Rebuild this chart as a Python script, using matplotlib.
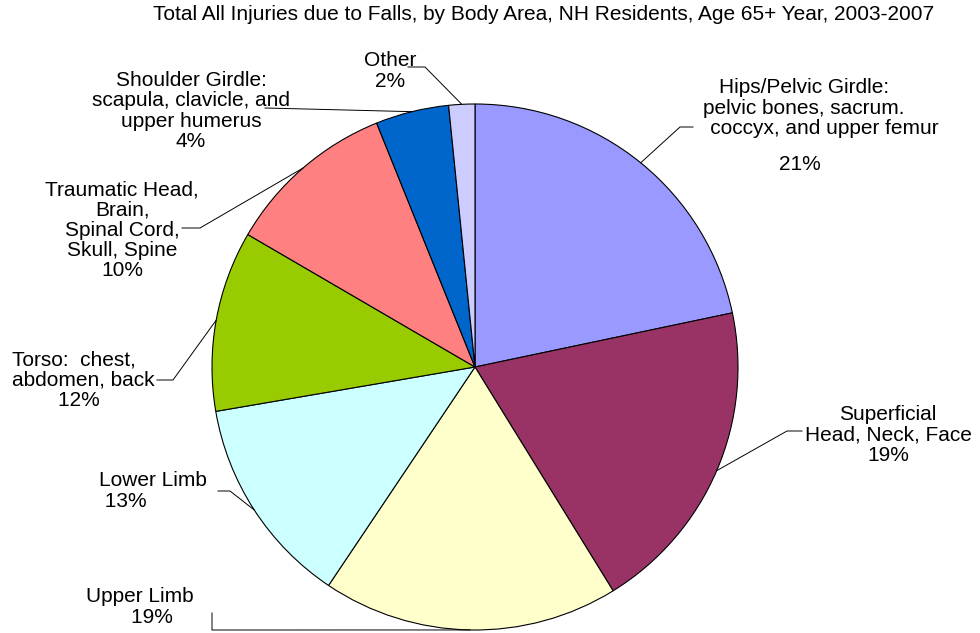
import numpy as np
import matplotlib.pyplot as plt

plt.rcParams['font.family'] = ['Liberation Sans', 'DejaVu Sans']

W, H = 980, 633

# data (shares, labels as printed)
categories = ["Hips/Pelvic Girdle", "Superficial Head, Neck, Face", "Upper Limb",
              "Lower Limb", "Torso", "Traumatic Head, Brain, Spinal Cord, Skull, Spine",
              "Shoulder Girdle", "Other"]
shares = [21.7, 19.5, 18.2, 12.9, 11.1, 10.5, 4.5, 1.6]
pct_labels = ["21%", "19%", "19%", "13%", "12%", "10%", "4%", "2%"]
colors = ["#9999FF", "#993366", "#FFFFCC", "#CCFFFF", "#99CC00", "#FF8080", "#0066CC", "#CCCCFF"]

label_texts = [
    "Hips/Pelvic Girdle:\npelvic bones, sacrum.\n       coccyx, and upper femur",
    "Superficial\nHead, Neck, Face\n" + pct_labels[1],
    "Upper Limb\n    " + pct_labels[2],
    "Lower Limb\n " + pct_labels[3],
    "Torso:  chest,\nabdomen, back\n        " + pct_labels[4],
    "Traumatic Head,\nBrain,\nSpinal Cord,\nSkull, Spine\n" + pct_labels[5],
    "Shoulder Girdle:\nscapula, clavicle, and\nupper humerus\n" + pct_labels[6],
    "Other\n" + pct_labels[7],
]

# layout in image pixels (x, y from top): text anchor, alignment, leader path
text_pos = [(804, 108), (888, 435), (140, 607), (99, 491), (12, 380), (122, 230), (191, 111), (390, 71)]
text_ha = ["center", "center", "center", "left", "left", "center", "center", "center"]
leaders = [[(693, 127), (680, 127)],
           [(802, 431), (787, 431)],
           [(212, 613), (212, 630)],
           [(218, 491), (230, 491)],
           [(157, 380), (173, 380)],
           [(182, 228), (200, 228)],
           [(265, 108)],
           [(408, 67), (425, 67)]]

cx, cy, r = 475, 367, 263


def img(x, y):
    return x, H - y


fig = plt.figure(figsize=(W / 100, H / 100), dpi=100)
ax = fig.add_axes([0, 0, 1, 1])

wedges, _ = ax.pie(shares, colors=colors, startangle=90, counterclock=False,
                   center=img(cx, cy), radius=r, frame=True,
                   wedgeprops=dict(edgecolor='black', linewidth=0.8))
ax.set_xlim(0, W)
ax.set_ylim(0, H)
ax.set_aspect('equal')
ax.axis('off')

fs = 15
for i, w in enumerate(wedges):
    mid = np.deg2rad((w.theta1 + w.theta2) / 2)
    ex, ey = cx + r * np.cos(mid), cy - r * np.sin(mid)
    pts = leaders[i] + [(ex, ey)]
    xs = [p[0] for p in pts]
    ys = [H - p[1] for p in pts]
    ax.plot(xs, ys, color='black', lw=0.7)
    tx, ty = img(*text_pos[i])
    ax.text(tx, ty, label_texts[i], ha=text_ha[i], va='center', multialignment=text_ha[i],
            fontsize=fs, linespacing=1.08)

# Hips percentage sits apart from its description
ax.text(*img(800, 164), pct_labels[0], ha='center', va='center', fontsize=fs)

ax.text(*img(544, 14), "Total All Injuries due to Falls, by Body Area, NH Residents, Age 65+ Year, 2003-2007",
        ha='center', va='center', fontsize=fs)

fig.savefig("out.png", dpi=100)
